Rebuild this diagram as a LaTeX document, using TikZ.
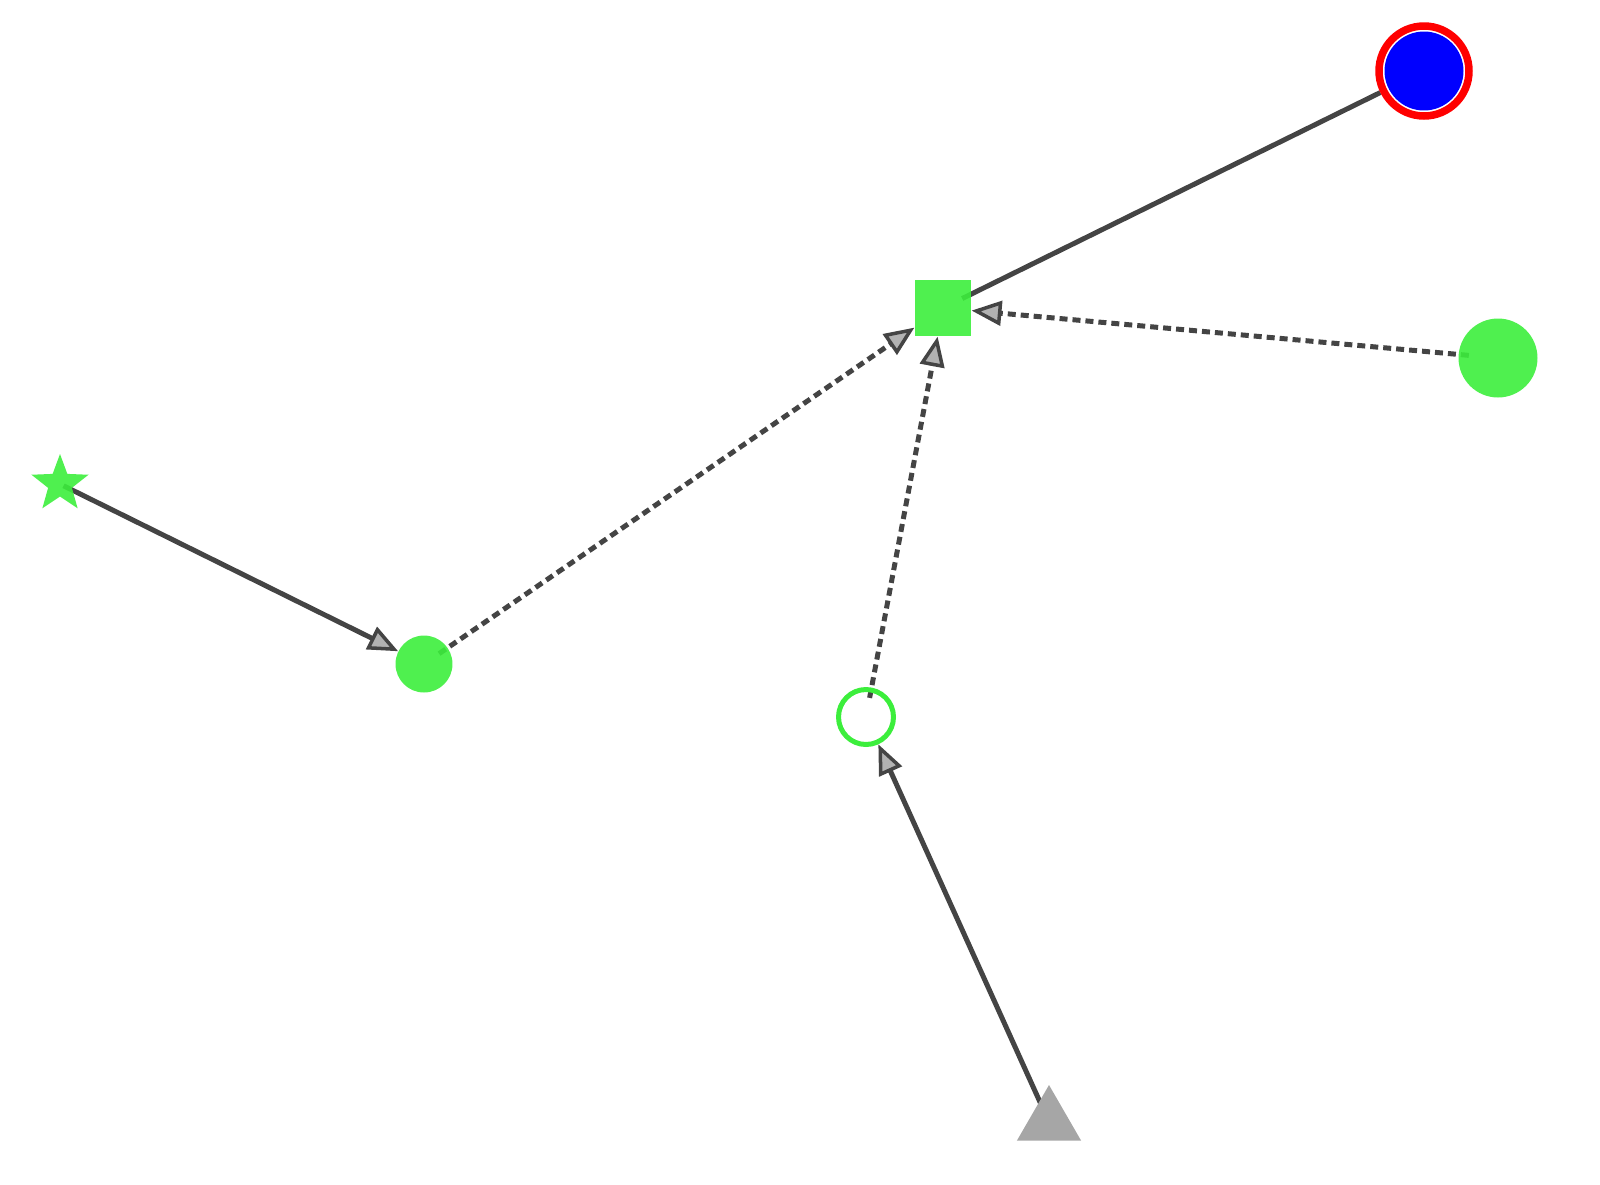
\documentclass[tikz,border=0pt]{standalone}
\usetikzlibrary{arrows.meta,shapes.geometric,backgrounds}
\definecolor{nodegreen}{RGB}{60,238,60}
\definecolor{edgegray}{RGB}{68,68,68}
\tikzset{
  vtx/.style={circle,inner sep=0pt,fill=nodegreen,fill opacity=0.9,draw=none},
  link/.style={line width=0.1cm,edgegray,shorten <=-6pt},
  dashlink/.style={link,dash pattern=on 0.16cm off 0.1cm},
  tip/.style={-{Triangle[length=17pt,width=14pt,fill=gray!60,line width=2pt]}}
}
\begin{document}
\begin{tikzpicture}[x=0.02cm,y=-0.02cm]
\useasboundingbox (0,0) rectangle (1600,1184);
% nodes
\node[vtx,minimum size=1.14cm] (mid) at (424,664) {};
\node[vtx,regular polygon,regular polygon sides=4,minimum size=1.6cm] (hub) at (943,308) {};
\node[vtx,minimum size=1.58cm] (east) at (1498,358) {};
\node[vtx,star,star points=5,star point ratio=2.4,minimum size=1.2cm] (star) at (60,484) {};
\node[circle,inner sep=0pt,draw=nodegreen,line width=0.1cm,minimum size=1.1cm] (ring) at (866,717) {};
\node[regular polygon,regular polygon sides=3,inner sep=0pt,fill=gray!70,minimum size=1.48cm] (tri) at (1049,1122) {};
\node[circle,inner sep=0pt,draw=red,line width=0.15cm,fill=white,minimum size=1.8cm,
  path picture={\fill[blue] (path picture bounding box.center) circle (0.79cm);}] (top) at (1424,71) {};
% edges
\begin{scope}[on background layer]
\draw[link,tip] (star) -- (mid);
\draw[dashlink,tip] (mid) -- (hub);
\draw[dashlink,tip] (ring) -- (hub);
\draw[dashlink,tip] (east) -- (hub);
\draw[link,tip] (tri) -- (ring);
\draw[link] (hub) -- (top);
\end{scope}
\end{tikzpicture}
\end{document}
